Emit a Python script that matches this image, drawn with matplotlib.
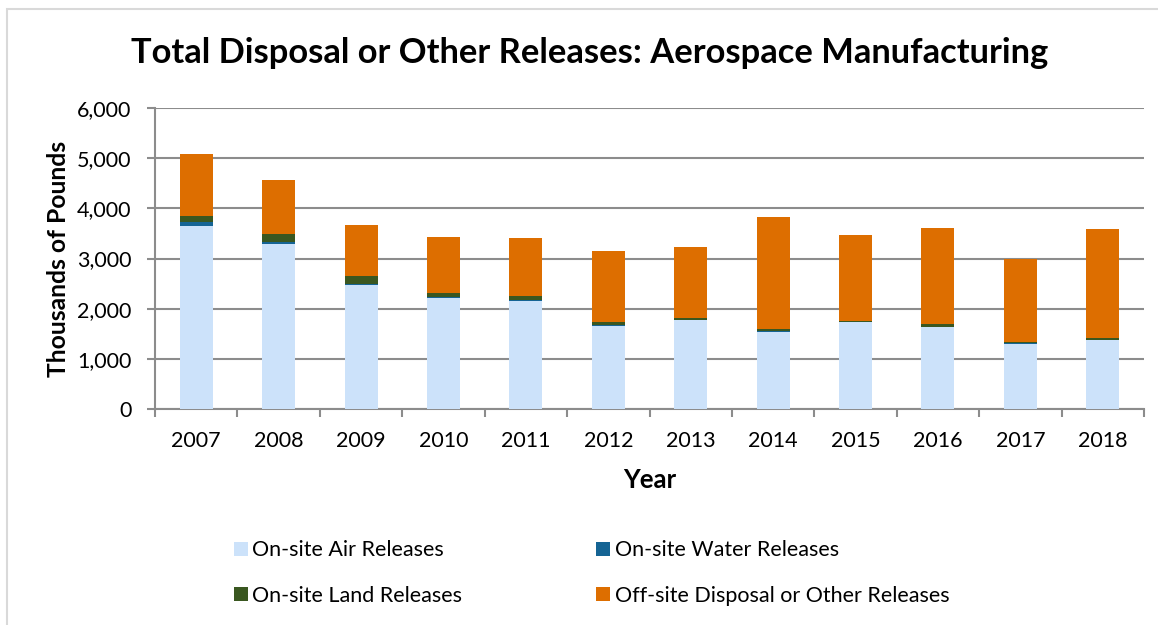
import matplotlib
matplotlib.use("Agg")
import matplotlib.pyplot as plt
from matplotlib.patches import Rectangle, Patch
from matplotlib.ticker import FuncFormatter, FixedLocator
import numpy as np

plt.rcParams['font.family'] = ['Lato', 'DejaVu Sans']

years = ["2007", "2008", "2009", "2010", "2011", "2012", "2013", "2014", "2015", "2016", "2017", "2018"]
air = [3657, 3298, 2467, 2214, 2161, 1650, 1770, 1540, 1730, 1630, 1305, 1370]
water = [66, 33, 26, 20, 13, 15, 8, 8, 5, 8, 5, 8]
land = [120, 160, 167, 86, 80, 60, 40, 40, 25, 50, 30, 45]
offsite = [1243, 1070, 1004, 1104, 1157, 1430, 1415, 2234, 1700, 1915, 1642, 2161]

series_names = ["On-site Air Releases", "On-site Water Releases",
                "On-site Land Releases", "Off-site Disposal or Other Releases"]
colors = ["#CCE2FA", "#156494", "#3A5720", "#DD6E00"]

W, H = 1158, 625
fig = plt.figure(figsize=(W / 100, H / 100), dpi=100)
fig.patch.set_facecolor("white")

# outer frame
fig.patches.append(Rectangle((7 / W, -0.1), 1.2, 1.1 - 9 / H, transform=fig.transFigure,
                             fill=False, edgecolor="#D9D9D9", linewidth=1.5, zorder=0))

ax = fig.add_axes([155 / W, 1 - 409 / H, (1144 - 155) / W, (409 - 108) / H])

x = np.arange(len(years))
bottom = np.zeros(len(years))
for vals, name, c in zip([air, water, land, offsite], series_names, colors):
    v = np.array(vals, dtype=float)
    ax.bar(x, v, width=0.40, bottom=bottom, color=c, label=name, zorder=3)
    bottom += v

ax.set_xlim(-0.5, len(years) - 0.5)
ax.set_ylim(0, 6000)
ax.set_yticks(np.arange(0, 6001, 1000))
ax.yaxis.set_major_formatter(FuncFormatter(lambda v, p: f"{int(v):,}"))
ax.yaxis.grid(True, color="#8C8C8C", linewidth=1.5, zorder=0)
ax.set_axisbelow(True)

ax.set_xticks(x)
ax.set_xticklabels(years)
ax.xaxis.set_minor_locator(FixedLocator(np.arange(-0.5, len(years), 1.0)))
ax.tick_params(axis="x", which="major", length=0, pad=16, labelsize=15.5, colors="black")
ax.tick_params(axis="x", which="minor", length=6, width=1.5, color="#8C8C8C", direction="out")
ax.tick_params(axis="y", length=6, width=1.5, color="#8C8C8C", pad=11, labelsize=15.5)

for s in ["top", "right"]:
    ax.spines[s].set_visible(False)
for s in ["left", "bottom"]:
    ax.spines[s].set_color("#8C8C8C")
    ax.spines[s].set_linewidth(1.5)

ax.set_xlabel("Year", fontsize=18.5, fontweight="bold")
ax.xaxis.set_label_coords(0.5, -(480 - 409) / (409 - 108), transform=ax.transAxes)
ax.xaxis.label.set_va("center")
ax.set_ylabel("Thousands of Pounds", fontsize=17.7, fontweight="bold")
ax.yaxis.set_label_coords(-(155 - 58) / (1144 - 155), 0.5, transform=ax.transAxes)
ax.yaxis.label.set_va("center")

fig.text(590 / W, 1 - 53 / H, "Total Disposal or Other Releases: Aerospace Manufacturing",
         ha="center", va="center", fontsize=24.8, fontweight="bold")

order = [0, 2, 1, 3]
leg_handles = [Patch(facecolor=colors[i]) for i in order]
leg_labels = [series_names[i] for i in order]
fig.legend(leg_handles, leg_labels, ncol=2, loc="center left",
           bbox_to_anchor=(223 / W, 1 - 573 / H), frameon=False, fontsize=15.5,
           handlelength=0.65, handleheight=0.65, handletextpad=0.22,
           columnspacing=6.2, labelspacing=1.18, borderpad=0.0)

fig.savefig("out.png", dpi=100)
